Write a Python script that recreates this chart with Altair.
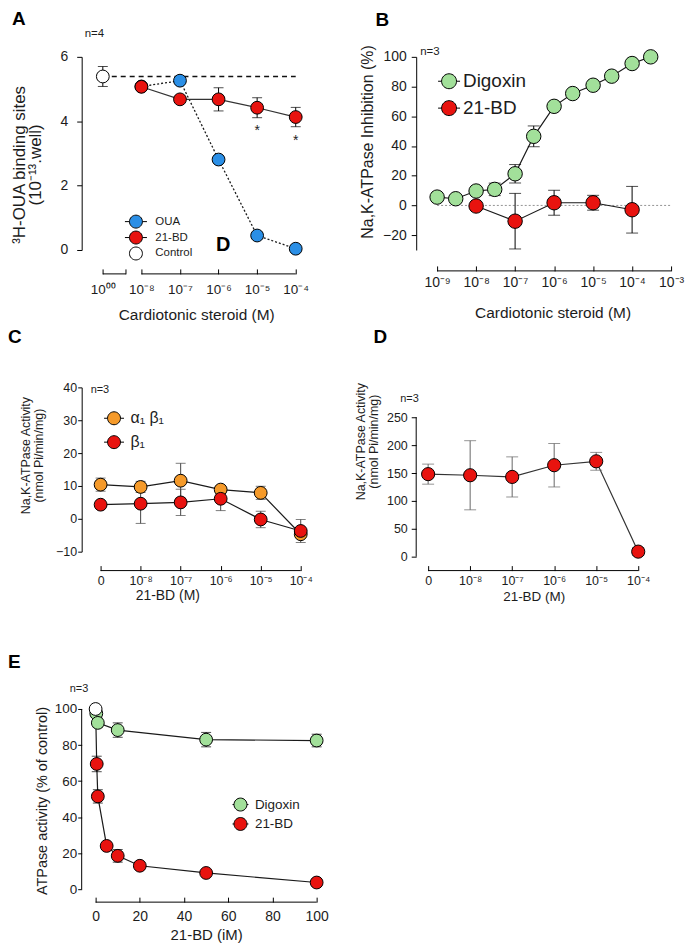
import math
import altair as alt
import pandas as pd

FONT = "Liberation Sans"
TXT = "#1c1c1c"
ZERO_SLOT = -9.0  # position used for "0" / control on the log axes

# ================= Panel A =================
A_SERIES = ["OUA", "21-BD", "Control"]
A_COLORS = ["#2b8fe6", "#e8130f", "#ffffff"]
A_CONC = [1e-8, 1e-7, 1e-6, 1e-5, 1e-4]
A_OUA = [5.08, 5.26, 2.81, 0.45, 0.04]
A_OUA_ERR = [0, 0, 0, 0, 0]
A_BD = [5.07, 4.68, 4.68, 4.42, 4.13]
A_BD_ERR = [0.06, 0.06, 0.36, 0.31, 0.30]
A_CTRL_CONC = [0]
A_CTRL = [5.39]
A_CTRL_ERR = [0.31]
A_STAR_CONC = [1e-5, 1e-4]
A_STAR_Y = [3.7, 3.4]
A_TICK_CONC = [0, 1e-8, 1e-7, 1e-6, 1e-5, 1e-4]
A_TICK_LABELS = ["10⁰⁰", "10⁻⁸", "10⁻⁷", "10⁻⁶", "10⁻⁵", "10⁻⁴"]
A_YTICKS = [0, 2, 4, 6]

# ================= Panel B =================
B_SERIES = ["Digoxin", "21-BD"]
B_COLORS = ["#a2e09a", "#e8130f"]
B_DIG_CONC = [1e-9, 3e-9, 1e-8, 3e-8, 1e-7, 3e-7, 1e-6, 3e-6, 1e-5, 3e-5, 1e-4, 3e-4]
B_DIG = [5.6, 4.5, 9.7, 10.8, 21.3, 46.5, 66.7, 75.3, 80.9, 87.0, 95.5, 100.0]
B_DIG_ERR = [0, 0, 0, 4.2, 6.2, 7.0, 0, 0, 0, 0, 0, 0]
B_BD_CONC = [1e-8, 1e-7, 1e-6, 1e-5, 1e-4]
B_BD = [-0.4, -10.6, 1.8, 1.8, -2.9]
B_BD_ERR = [0, 18.7, 8.4, 5.0, 15.7]
B_TICK_CONC = [1e-9, 1e-8, 1e-7, 1e-6, 1e-5, 1e-4, 1e-3]
B_TICK_LABELS = ["10⁻⁹", "10⁻⁸", "10⁻⁷", "10⁻⁶", "10⁻⁵", "10⁻⁴", "10⁻³"]
B_YTICKS = [-20, 0, 20, 40, 60, 80, 100]

# ================= Panel C =================
C_SERIES = ["α₁ β₁", "β₁"]
C_COLORS = ["#f59a2a", "#e8130f"]
C_CONC = [0, 1e-8, 1e-7, 1e-6, 1e-5, 1e-4]
C_A1B1 = [10.4, 9.7, 11.6, 8.9, 7.9, -4.7]
C_A1B1_ERR = [2.0, 1.7, 5.3, 0.8, 2.0, 1.0]
C_B1 = [4.3, 4.6, 5.0, 6.1, -0.2, -3.7]
C_B1_ERR = [0.4, 6.0, 4.0, 3.6, 2.5, 3.5]
C_TICK_LABELS = ["0", "10⁻⁸", "10⁻⁷", "10⁻⁶", "10⁻⁵", "10⁻⁴"]
C_YTICKS = [-10, 0, 10, 20, 30, 40]

# ================= Panel D =================
D_SERIES = ["21-BD"]
D_COLORS = ["#e8130f"]
D_CONC = [0, 1e-8, 1e-7, 1e-6, 1e-5, 1e-4]
D_BD = [148, 146, 143, 164, 171, 9]
D_BD_ERR = [18, 62, 36, 39, 16, 7]
D_TICK_LABELS = ["0", "10⁻⁸", "10⁻⁷", "10⁻⁶", "10⁻⁵", "10⁻⁴"]
D_YTICKS = [0, 50, 100, 150, 200, 250]

# ================= Panel E =================
E_SERIES = ["Digoxin", "21-BD", "Control"]
E_COLORS = ["#a2e09a", "#e8130f", "#ffffff"]
E_CTRL_CONC = [0]
E_CTRL = [100]
E_DIG_CONC = [0.3, 1, 10, 50, 100]
E_DIG = [97.5, 92.3, 88.3, 83.0, 82.5]
E_DIG_ERR = [0, 2.6, 4.0, 4.0, 3.5]
E_BD_CONC = [0.5, 1, 5, 10, 20, 50, 100]
E_BD = [69.5, 51.5, 24.0, 18.5, 13.0, 9.0, 3.7]
E_BD_ERR = [4.3, 3.7, 2.0, 3.5, 2.0, 1.0, 1.0]
E_XTICKS = [0, 20, 40, 60, 80, 100]
E_YTICKS = [0, 20, 40, 60, 80, 100]


def lx(c):
    return ZERO_SLOT if c == 0 else math.log10(c)


def sdf(name, xs, ys, errs=None):
    errs = errs if errs is not None else [0] * len(ys)
    return pd.DataFrame({"series": name, "x": list(xs), "y": list(ys),
                         "lo": [y - e for y, e in zip(ys, errs)],
                         "hi": [y + e for y, e in zip(ys, errs)],
                         "err": list(errs)})


def tick_expr(pos, labels):
    s = "''"
    for p, l in reversed(list(zip(pos, labels))):
        s = f"(abs(datum.value - ({p:.4f})) < 0.001 ? '{l}' : {s})"
    return s


CIRCLE = "M1,0A1,1,0,1,1,-1,0A1,1,0,1,1,1,0Z"


def stub_circ(ext):
    # circle of unit radius with short horizontal whiskers out to +-ext
    return f"M{-ext},0L-1,0M1,0L{ext},0" + CIRCLE


TICK = 5


def panel(c):
    W, H = c["w"], c["h"]
    xs = alt.Scale(domain=c["xdom"], nice=False, zero=False)
    ys = alt.Scale(domain=c["ydom"], nice=False, zero=False)
    xax = dict(values=c["xticks"], domain=False, ticks=True, tickSize=TICK, tickColor="black",
               tickWidth=1, offset=c["xline"] - TICK, labelPadding=c["xlabpad"], labelFont=FONT,
               labelFontSize=c["xlabsize"], labelColor=TXT, labelOverlap=False, labelFlush=False,
               grid=False, title=c["xtitle"], titleFont=FONT, titleFontSize=c["xtitlesize"],
               titleFontWeight="normal", titleColor=TXT, titlePadding=c["xtitlepad"],
               titleX=c["xtitlex"])
    if c.get("xlabels"):
        xax["labelExpr"] = tick_expr(c["xticks"], c["xlabels"])
    yax = dict(values=c["yticks"], domain=c["ydomline"], domainColor="black", domainWidth=1,
               ticks=True, tickSize=c["ytick"], tickColor="black", tickWidth=1,
               labelPadding=c["ylabpad"], labelFont=FONT, labelFontSize=c["ylabsize"],
               labelColor=TXT, labelOverlap=False, labelFlush=False, grid=False,
               title=c["ytitle"], titleFont=FONT, titleFontSize=c["ytitlesize"],
               titleFontWeight="normal", titleColor=TXT, titleX=c["ytitlex"], titleY=c["ytitley"],
               titleBaseline="alphabetic", titleAlign="center", titleAngle=270,
               titleLineHeight=c["ytitlelh"])

    def X(f="x"):
        return alt.X(f"{f}:Q", scale=xs, axis=alt.Axis(**xax))

    def Y(f="y"):
        return alt.Y(f"{f}:Q", scale=ys, axis=alt.Axis(**yax))

    fill_scale = alt.Scale(domain=c["series"], range=c["colors"])
    layers = []
    lg = c.get("legend")
    if lg:
        # invisible carrier layer for the legend (first, so its legend definition wins)
        leg = alt.Legend(orient="none", legendX=lg["x"], legendY=lg["y"], title=None,
                         values=lg["names"], labelFont=FONT, labelFontSize=lg["fs"],
                         labelColor=TXT, symbolStrokeWidth=1, symbolOpacity=1,
                         symbolSize=lg["size"], rowPadding=lg["rowpad"],
                         labelOffset=lg["laboff"], padding=0, labelLimit=200)
        ldf = pd.DataFrame({"series": c["series"], "x": [c["xdom"][0]] * len(c["series"]),
                            "y": [c["ydom"][0]] * len(c["series"])})
        layers.append(alt.Chart(ldf).mark_point(size=lg["size"], strokeWidth=1, opacity=0).encode(
            x=X("x"), y=Y("y"),
            fill=alt.Fill("series:N", scale=fill_scale, legend=leg),
            stroke=alt.Stroke("series:N", scale=alt.Scale(domain=c["series"],
                                                          range=["#000000"] * len(c["series"])),
                              legend=leg),
            shape=alt.Shape("series:N", scale=alt.Scale(domain=c["series"], range=lg["shapes"]),
                            legend=leg)))
    # x axis line segments (ticks point up from this line)
    seg = pd.DataFrame({"x": [s[0] for s in c["xseg"]], "x2": [s[1] for s in c["xseg"]]})
    layers.append(alt.Chart(seg).mark_rule(color="black", strokeWidth=1).encode(
        x=X("x"), x2="x2", y=alt.value(H + c["xline"])))
    if not c["ydomline"]:
        ysg = pd.DataFrame({"y": [c["yticks"][0]], "y2": [c["yticks"][-1]]})
        layers.append(alt.Chart(ysg).mark_rule(color="black", strokeWidth=1).encode(
            x=alt.value(0), y=Y("y"), y2="y2"))
    for r in c.get("refs", []):
        layers.append(alt.Chart(r["df"]).mark_rule(color=r["color"], strokeWidth=r["w"],
                                                   strokeDash=r["dash"]).encode(
            x=X("x"), x2="x2", y=Y("y")))
    for ln in c["lines"]:
        kw = dict(color=ln.get("color", "#1a1a1a"), strokeWidth=ln.get("w", 1.2))
        if ln.get("dash"):
            kw["strokeDash"] = ln["dash"]
        layers.append(alt.Chart(ln["df"]).mark_line(**kw).encode(x=X("x"), y=Y("y")))
    e = c["pts"][c["pts"]["err"] > 0]
    if len(e):
        ec = c.get("errcolor", "black")
        layers.append(alt.Chart(e).mark_rule(color=ec, strokeWidth=1).encode(
            x=X("x"), y=Y("lo"), y2="hi"))
        for f in ("lo", "hi"):
            layers.append(alt.Chart(e).mark_tick(orient="horizontal", size=c["cap"], thickness=1,
                                                 color=ec).encode(x=X("x"), y=Y(f)))
    layers.append(alt.Chart(c["pts"]).mark_point(
        size=c["psize"], stroke="black", strokeWidth=1, opacity=1, fillOpacity=1).encode(
        x=X("x"), y=Y("y"),
        fill=alt.Fill("series:N", scale=fill_scale, legend=None)))
    for s in c.get("stars", []):
        layers.append(alt.Chart(s).mark_text(font=FONT, fontSize=14, color="#222",
                                             baseline="middle").encode(
            x=X("x"), y=Y("y"), text="t:N"))
    for t in c["texts"]:
        layers.append(alt.Chart(pd.DataFrame({"t": [t["t"]]})).mark_text(
            font=FONT, fontSize=t["fs"], fontWeight=t.get("fw", "normal"), color=t.get("color", TXT),
            align="left", baseline="alphabetic").encode(
            x=alt.value(t["x"]), y=alt.value(t["y"]), text="t:N"))
    return alt.layer(*layers).properties(width=W, height=H)


# ---------------- Panel A ----------------
a_pts = pd.concat([
    sdf("OUA", [lx(v) for v in A_CONC], A_OUA, A_OUA_ERR),
    sdf("21-BD", [lx(v) for v in A_CONC], A_BD, A_BD_ERR),
    sdf("Control", [lx(v) for v in A_CTRL_CONC], A_CTRL, A_CTRL_ERR),
], ignore_index=True)
a_ticks = [lx(v) for v in A_TICK_CONC] + [lx(A_CTRL_CONC[0]) + 0.6]
A = panel(dict(
    w=228, h=194, xdom=[-9.548, -3.664], ydom=[0, 6],
    xticks=a_ticks, xlabels=A_TICK_LABELS + [""], xline=24, xlabpad=9, xlabsize=13.5,
    xtitle="Cardiotonic steroid (M)", xtitlesize=15.5, xtitlepad=11, xtitlex=115,
    xseg=[(lx(A_CTRL_CONC[0]), lx(A_CTRL_CONC[0]) + 0.6), (lx(A_CONC[0]), lx(A_CONC[-1]))],
    yticks=A_YTICKS, ydomline=True, ytick=5, ylabpad=9, ylabsize=14,
    ytitle=["³H-OUA binding sites", "(10⁻¹³.well)"], ytitlesize=17, ytitlex=-57, ytitley=108,
    ytitlelh=16,
    refs=[dict(df=pd.DataFrame({"x": [lx(A_CTRL_CONC[0])], "x2": [lx(A_CONC[-1])], "y": A_CTRL}),
               color="#111", w=1.3, dash=[5, 4])],
    lines=[dict(df=a_pts[a_pts.series == "OUA"], dash=[2, 2], w=1.3),
           dict(df=a_pts[a_pts.series == "21-BD"], color="#333")],
    pts=a_pts, cap=10, psize=165,
    series=A_SERIES, colors=A_COLORS,
    legend=dict(names=A_SERIES, shapes=[stub_circ(1.7), stub_circ(1.7), CIRCLE],
                x=47.5, y=158.5, fs=11.5, size=169, rowpad=-4, laboff=12.5),
    stars=[pd.DataFrame({"x": [lx(v) for v in A_STAR_CONC], "y": A_STAR_Y, "t": "*"})],
    texts=[dict(t="A", x=-70, y=-32, fs=19, fw="bold", color="black"),
           dict(t="n=4", x=3, y=-20, fs=11.5),
           dict(t="D", x=135, y=195, fs=20, fw="bold", color="black")],
))

# ---------------- Panel B ----------------
b_pts = pd.concat([
    sdf("Digoxin", [lx(v) for v in B_DIG_CONC], B_DIG, B_DIG_ERR),
    sdf("21-BD", [lx(v) for v in B_BD_CONC], B_BD, B_BD_ERR),
], ignore_index=True)
B = panel(dict(
    w=274, h=194, xdom=[-9.536, -2.541], ydom=[-30, 100],
    xticks=[lx(v) for v in B_TICK_CONC], xlabels=B_TICK_LABELS, xline=21, xlabpad=5, xlabsize=14,
    xtitle="Cardiotonic steroid (M)", xtitlesize=15.5, xtitlepad=16, xtitlex=137,
    xseg=[(lx(B_TICK_CONC[0]), lx(B_TICK_CONC[-1]))],
    yticks=B_YTICKS, ydomline=True, ytick=5, ylabpad=5, ylabsize=14,
    ytitle="Na,K-ATPase Inhibition (%)", ytitlesize=16, ytitlex=-44, ytitley=85, ytitlelh=16,
    refs=[dict(df=pd.DataFrame({"x": [lx(B_TICK_CONC[0])], "x2": [lx(B_TICK_CONC[-1])], "y": [0]}),
               color="#777", w=0.8, dash=[2, 2])],
    lines=[dict(df=b_pts[b_pts.series == "Digoxin"]), dict(df=b_pts[b_pts.series == "21-BD"])],
    pts=b_pts, cap=12, psize=210,
    series=B_SERIES, colors=B_COLORS,
    legend=dict(names=B_SERIES, shapes=[stub_circ(1.47), stub_circ(1.47)],
                x=23.5, y=15, fs=19, size=225, rowpad=7, laboff=4.5),
    texts=[dict(t="B", x=-41, y=-31, fs=19, fw="bold", color="black"),
           dict(t="n=3", x=4, y=-2, fs=11.5)],
))

# ---------------- Panel C ----------------
c_pts = pd.concat([
    sdf("α₁ β₁", [lx(v) for v in C_CONC], C_A1B1, C_A1B1_ERR),
    sdf("β₁", [lx(v) for v in C_CONC], C_B1, C_B1_ERR),
], ignore_index=True)
C = panel(dict(
    w=240, h=165, xdom=[-9.473, -3.503], ydom=[-10, 40],
    xticks=[lx(v) for v in C_CONC], xlabels=C_TICK_LABELS, xline=19, xlabpad=4, xlabsize=12.5,
    xtitle="21-BD (M)", xtitlesize=14, xtitlepad=2, xtitlex=86,
    xseg=[(lx(C_CONC[0]), lx(C_CONC[-1]))],
    yticks=C_YTICKS, ydomline=True, ytick=4, ylabpad=1, ylabsize=12.5,
    ytitle=["Na,K-ATPase Activity", "(nmol Pi/min/mg)"], ytitlesize=12.5, ytitlex=-52,
    ytitley=68, ytitlelh=12.5,
    lines=[dict(df=c_pts[c_pts.series == "α₁ β₁"]), dict(df=c_pts[c_pts.series == "β₁"])],
    pts=c_pts, cap=10, psize=165, errcolor="#444",
    series=C_SERIES, colors=C_COLORS,
    legend=dict(names=C_SERIES, shapes=[stub_circ(1.54), stub_circ(1.54)],
                x=24.5, y=23, fs=16, size=169, rowpad=6, laboff=8.5),
    texts=[dict(t="C", x=-74, y=-45, fs=19, fw="bold", color="black"),
           dict(t="n=3", x=9, y=6, fs=11)],
))

# ---------------- Panel D ----------------
d_pts = sdf("21-BD", [lx(v) for v in D_CONC], D_BD, D_BD_ERR)
D = panel(dict(
    w=240, h=170, xdom=[-9.284, -3.597], ydom=[0, 303.6],
    xticks=[lx(v) for v in D_CONC], xlabels=D_TICK_LABELS, xline=14, xlabpad=4, xlabsize=12.5,
    xtitle="21-BD (M)", xtitlesize=13.5, xtitlepad=3, xtitlex=118,
    xseg=[(lx(D_CONC[0]), lx(D_CONC[-1]))],
    yticks=D_YTICKS, ydomline=False, ytick=5, ylabpad=4, ylabsize=12.5,
    ytitle=["Na,K-ATPase Activity", "(nmol Pi/min/mg)"], ytitlesize=12.5, ytitlex=-52,
    ytitley=54, ytitlelh=13,
    lines=[dict(df=d_pts, color="#333")],
    pts=d_pts, cap=12, psize=175, errcolor="#666",
    series=D_SERIES, colors=D_COLORS,
    texts=[dict(t="D", x=-43, y=-45, fs=19, fw="bold", color="black"),
           dict(t="n=3", x=-16, y=15, fs=11)],
))

# ---------------- Panel E ----------------
e_ctrl = sdf("Control", E_CTRL_CONC, E_CTRL)
e_dig = sdf("Digoxin", E_DIG_CONC, E_DIG, E_DIG_ERR)
e_bd = sdf("21-BD", E_BD_CONC, E_BD, E_BD_ERR)
e_pts = pd.concat([e_dig, e_bd, e_ctrl], ignore_index=True)
E = panel(dict(
    w=248, h=196, xdom=[-6.306, 105.4], ydom=[0, 108.3],
    xticks=E_XTICKS, xline=13, xlabpad=7, xlabsize=14,
    xtitle="21-BD (iM)", xtitlesize=15, xtitlepad=5, xtitlex=125,
    xseg=[(E_XTICKS[0], E_XTICKS[-1])],
    yticks=E_YTICKS, ydomline=False, ytick=4, ylabpad=1, ylabsize=13.5,
    ytitle="ATPase activity (% of control)", ytitlesize=14.5, ytitlex=-35, ytitley=107,
    ytitlelh=14.5,
    lines=[dict(df=pd.concat([e_ctrl, e_dig])), dict(df=pd.concat([e_ctrl, e_bd]))],
    pts=e_pts, cap=10, psize=165,
    series=E_SERIES, colors=E_COLORS,
    legend=dict(names=E_SERIES[:2], shapes=[stub_circ(1.23), stub_circ(1.23), CIRCLE],
                x=152.5, y=104, fs=13.5, size=169, rowpad=1.5, laboff=7.5),
    texts=[dict(t="E", x=-74, y=-26, fs=19, fw="bold", color="black"),
           dict(t="n=3", x=-12, y=-2, fs=11)],
))

chart = alt.concat(A, B, C, D, E, columns=2, spacing={"row": 138, "column": 88},
                   bounds="flush").resolve_scale(
    fill="independent", stroke="independent", shape="independent"
).resolve_legend(fill="independent", stroke="independent", shape="independent").properties(
    padding={"left": 0, "top": 0, "right": 0, "bottom": 0}
).configure(font=FONT).configure_view(strokeWidth=0, stroke="transparent")

chart.save("out.html", embed_options={"renderer": "svg", "actions": False})
